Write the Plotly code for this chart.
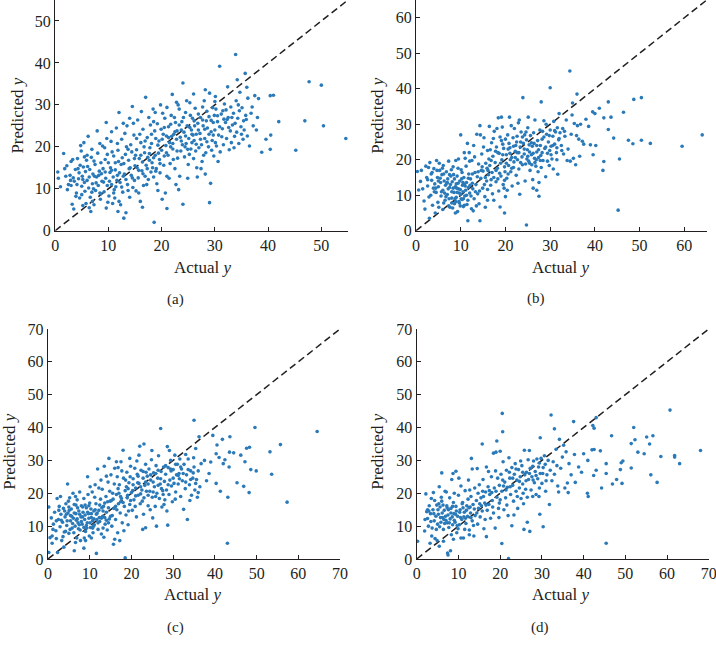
import plotly.graph_objects as go

# Actual y vs predicted y
pts_a = [
    (0.5,14.0),(0.6,12.5),(1.6,18.4),(1.0,10.5),(2.2,15.5),(2.5,11.0),(2.8,13.2),(3.0,16.5),(2.3,9.8),(3.2,6.3),
    (3.5,5.2),(2.9,12.0),(1.8,14.8),
    (3.6,11.8),(3.8,14.6),(4.0,9.0),(4.2,17.2),(4.4,12.4),(4.6,7.8),(4.8,20.3),(5.0,10.6),(5.1,13.0),(5.3,15.2),
    (5.5,11.5),(5.6,9.4),(5.8,6.5),(5.9,16.8),(4.1,11.0),(4.5,13.8),(5.2,12.2),(3.9,8.2),(4.9,19.0),(5.7,14.1),
    (5.4,21.0),(3.3,17.0),
    (6.0,12.0),(6.2,22.5),(6.3,10.2),(6.5,14.6),(6.6,8.0),(6.8,17.5),(7.0,11.2),(7.1,13.5),(7.3,6.2),(7.5,15.8),
    (7.6,9.6),(7.8,12.8),(8.0,18.5),(8.1,10.8),(8.3,14.2),(8.5,7.5),(8.6,16.2),(8.8,11.8),(8.9,20.2),(6.4,5.5),
    (6.9,19.4),(7.4,13.0),(7.9,23.8),(8.4,9.0),(6.1,15.3),(7.2,10.0),(8.7,13.6),(6.7,4.6),
    (9.0,14.8),(9.2,9.3),(9.3,19.8),(9.5,12.5),(9.6,25.8),(9.8,10.8),(10.0,16.2),(10.1,8.3),(10.3,13.9),(10.5,21.3),
    (10.6,11.0),(10.8,6.5),(11.0,17.8),(11.1,9.8),(11.3,14.5),(11.5,24.5),(11.6,12.0),(11.8,19.2),(12.0,7.0),(12.0,28.2),
    (9.4,17.0),(9.9,6.8),(10.4,15.0),(10.9,12.8),(11.4,10.5),(11.9,16.5),(9.7,22.0),(10.7,18.8),(11.2,7.8),(11.7,13.2),
    (12.2,11.5),(12.4,15.8),(12.5,21.8),(12.7,9.2),(12.9,3.0),(13.0,13.5),(13.2,18.2),(13.3,4.3),(13.5,25.0),(13.6,11.0),
    (13.8,16.8),(14.0,8.0),(14.2,20.5),(14.3,13.2),(14.5,29.6),(14.6,10.3),(14.8,22.8),(15.0,15.5),(12.6,17.4),(13.1,23.2),
    (13.9,14.8),(14.4,18.8),(14.9,12.0),(12.3,6.2),(13.7,9.6),(14.7,25.6),(12.8,13.0),(13.4,20.0),
    (15.2,9.5),(15.3,19.3),(15.5,26.4),(15.6,12.6),(15.8,17.2),(16.0,7.0),(16.1,21.0),(16.3,14.3),(16.5,24.2),(16.6,10.8),
    (16.8,18.6),(17.0,31.8),(17.1,15.6),(17.3,22.2),(17.5,12.2),(17.6,27.0),(17.8,19.8),(18.0,14.0),(15.4,15.0),(15.9,23.0),
    (16.4,16.4),(16.9,13.0),(17.4,17.5),(17.9,25.2),(15.7,9.0),(16.7,20.0),(17.2,11.0),(16.2,28.4),(17.7,16.8),(15.1,18.0),
    (18.1,20.8),(18.2,16.2),(18.4,29.0),(18.5,12.8),(18.6,2.0),(18.7,23.8),(18.8,18.0),(19.0,14.8),(19.2,25.5),(19.3,9.6),
    (19.5,21.4),(19.6,17.0),(19.8,30.0),(20.0,19.2),(20.1,7.5),(20.3,23.0),(20.4,15.6),(20.6,26.8),(20.8,20.3),(21.0,13.0),
    (18.3,15.0),(18.9,22.0),(19.4,18.5),(19.9,24.2),(20.5,17.8),(20.9,22.6),(19.1,11.2),(20.2,28.0),(18.5,26.0),(19.7,13.8),
    (20.7,9.0),(21.0,5.3),
    (21.2,18.0),(21.3,24.8),(21.5,21.0),(21.6,16.0),(21.8,27.5),(22.0,32.5),(22.1,19.5),(22.3,23.0),(22.5,14.8),(22.6,25.8),
    (22.8,21.8),(23.0,17.3),(23.2,9.8),(23.3,29.0),(23.5,22.3),(23.6,19.0),(23.8,26.0),(24.0,35.2),(24.0,6.3),(21.4,12.5),
    (21.9,22.5),(22.4,27.0),(22.9,23.8),(23.4,13.0),(23.9,20.5),(22.2,17.0),(23.1,30.0),(21.7,20.0),(22.7,11.0),(23.7,24.0),
    (24.2,23.5),(24.3,17.6),(24.5,28.2),(24.6,20.8),(24.8,25.0),(25.0,15.8),(25.1,22.0),(25.3,30.5),(25.5,19.5),(25.6,24.0),
    (25.8,26.8),(26.0,17.2),(26.1,21.5),(26.3,29.2),(26.5,23.0),(26.6,15.0),(26.8,25.6),(27.0,19.8),(24.4,20.0),(24.9,12.5),
    (25.4,27.5),(25.9,22.8),(26.4,19.0),(26.9,27.8),(24.7,31.0),(25.7,21.0),(26.2,25.0),(26.7,12.8),(25.2,18.2),
    (27.2,23.2),(27.3,27.0),(27.5,20.5),(27.6,16.5),(27.8,25.0),(28.0,31.0),(28.1,22.0),(28.3,18.6),(28.5,28.5),(28.6,24.5),
    (28.8,20.0),(29.0,32.8),(29.0,6.7),(29.2,11.3),(29.3,26.3),(29.5,21.5),(29.6,29.3),(29.8,17.8),(30.0,24.0),(27.4,14.8),
    (27.9,18.0),(28.4,26.2),(28.9,23.0),(29.4,19.2),(29.9,27.5),(27.7,29.5),(28.2,13.5),(29.7,22.8),
    (30.2,29.0),(30.3,20.2),(30.5,26.0),(30.7,22.8),(30.9,39.2),(31.0,18.8),(31.2,27.8),(31.4,24.3),(31.6,20.5),(31.8,30.2),
    (32.0,25.8),(32.2,22.0),(32.4,34.3),(32.5,27.0),(32.7,19.3),(32.9,23.8),(33.0,29.5),(30.6,16.5),(31.5,28.6),(32.3,26.5),
    (33.1,21.0),(30.1,32.0),
    (33.3,25.2),(33.5,28.0),(33.7,22.5),(33.9,42.0),(34.0,31.0),(34.1,23.5),(34.3,26.8),(34.5,20.8),(34.7,33.0),(34.9,24.8),
    (35.1,29.3),(35.3,21.8),(35.5,24.0),(35.7,37.5),(35.8,27.5),(36.0,34.2),(36.1,22.6),(36.2,31.6),(33.6,19.8),(34.4,30.0),
    (35.0,23.0),(35.9,26.5),(34.2,36.0),
    (36.8,28.0),(37.2,25.0),(37.5,32.2),(37.8,24.0),(38.0,27.0),(38.2,31.5),(38.8,18.7),(39.6,21.8),(40.4,19.4),(40.5,22.8),
    (40.4,32.2),(41.0,32.3),(42.0,26.0),(45.2,19.2),(46.9,26.2),(47.7,35.5),(50.0,34.7),(50.4,25.0),(54.6,22.0),(36.5,20.2),
    (37.0,29.5),
    (2.0,13.0),(3.4,12.6),(4.7,15.6),(5.0,8.6),(5.5,17.6),(6.4,12.8),(6.9,9.2),(7.3,16.6),(7.7,11.4),(8.2,13.2),
    (8.6,8.8),(9.1,11.6),(9.4,14.0),(9.8,18.2),(10.2,11.8),(10.6,14.4),(11.0,9.0),(11.3,16.2),(11.7,20.8),(12.1,13.8),
    (12.5,10.4),(12.9,16.0),(13.3,12.2),(13.7,19.4),(14.1,15.0),(14.5,12.6),(14.9,17.2),(15.3,22.0),(15.7,14.4),(16.1,18.0),
    (16.5,13.6),(16.9,21.4),(17.3,14.8),(17.7,18.4),(18.1,23.0),(18.5,17.4),(18.9,14.2),(19.3,20.4),(19.7,16.0),(20.1,21.8),
    (20.5,24.6),(20.9,18.6),(21.3,22.2),(21.7,25.4),(22.1,20.8),(22.5,23.6),(22.9,19.0),(23.3,25.2),(23.7,21.4),(24.1,27.0),
    (24.5,22.6),(24.9,19.4),(25.3,24.6),(25.7,23.0),(26.1,26.2),(26.5,20.6),(26.9,24.0),(27.3,21.8),(27.7,26.4),(28.1,24.2),
    (28.5,21.2),(28.9,27.2),(29.3,23.6),(29.7,25.8),(30.1,21.0),(30.5,27.4),(30.9,24.8),(31.3,22.4),(31.7,26.6),(32.1,28.8),
    (32.6,24.6),(33.2,27.0),(33.8,25.6),(34.6,28.6),(35.4,26.2),(5.2,6.0),(7.0,7.0),(9.6,5.4),(11.8,4.6),(16.4,5.6),
    (3.0,10.8),(4.3,14.8),(6.0,18.0),(8.4,20.8),(10.6,23.6),(12.8,25.6),(14.0,26.8),(18.8,28.2),(21.0,29.4),(22.8,30.6),
    (26.0,32.6),(28.2,33.6),(30.0,30.8),
]

pts_b = [
    (0.3,16.7),(1.0,13.9),(0.6,11.5),(1.5,11.8),(1.8,8.4),(2.0,6.1),(2.2,18.2),(2.4,15.0),(2.6,12.6),(2.8,17.8),
    (3.0,3.5),(3.1,19.2),(3.3,10.0),(3.5,14.2),(3.7,7.2),(3.9,12.0),(1.2,17.0),(2.9,9.5),(3.6,16.4),
    (4.0,17.5),(4.2,13.2),(4.3,5.0),(4.5,10.8),(4.6,19.8),(4.8,15.0),(5.0,12.4),(5.1,6.6),(5.3,17.0),(5.5,13.6),
    (5.6,9.8),(5.8,15.8),(6.0,11.4),(6.1,18.4),(6.3,14.0),(6.5,8.6),(6.6,12.8),(6.8,16.6),(7.0,10.2),(7.1,14.6),
    (7.3,19.6),(7.5,12.2),(7.6,6.6),(7.8,15.4),(8.0,9.2),(4.4,12.0),(4.9,8.0),(5.4,14.8),(5.9,17.6),(6.4,10.6),
    (6.9,13.4),(7.4,9.0),(7.9,17.2),(6.2,7.8),(7.2,11.8),(5.2,19.0),(7.7,13.0),
    (8.1,13.8),(8.2,6.4),(8.3,18.0),(8.5,10.8),(8.6,7.6),(8.8,12.4),(8.9,19.8),(9.0,9.4),(9.2,15.4),(9.3,5.4),
    (9.5,11.8),(9.6,8.2),(9.8,14.0),(10.0,27.0),(10.0,10.2),(10.1,17.2),(10.3,8.8),(10.4,12.8),(10.6,6.8),(10.7,15.0),
    (10.9,9.8),(11.0,20.4),(11.1,11.4),(11.3,13.6),(11.5,24.6),(11.6,8.6),(11.6,2.8),(11.8,16.0),(12.0,10.6),(8.4,15.8),
    (8.7,9.0),(9.1,12.0),(9.4,17.6),(9.7,10.6),(9.9,7.0),(10.2,14.6),(10.5,11.0),(10.8,13.0),(11.2,18.2),(11.4,7.4),
    (11.7,12.2),(8.0,11.0),(9.0,13.2),(10.6,9.0),(11.9,22.0),(9.5,20.2),
    (12.2,14.6),(12.4,6.2),(12.5,19.8),(12.7,11.8),(12.9,24.0),(13.0,9.0),(13.2,16.4),(13.4,13.0),(13.6,27.2),(13.8,10.4),
    (14.0,18.8),(14.1,7.6),(14.3,2.8),(14.3,29.6),(14.5,14.8),(14.7,21.6),(14.9,12.0),(15.0,16.8),(15.2,26.2),(15.4,9.6),
    (15.6,19.0),(15.8,14.0),(16.0,22.6),(12.6,16.0),(13.1,20.8),(13.7,15.2),(14.2,11.2),(14.8,18.0),(15.3,13.0),(15.9,17.6),
    (12.3,9.8),(13.5,7.0),(15.1,23.6),(16.0,11.6),
    (16.2,15.8),(16.4,29.4),(16.5,18.4),(16.7,12.8),(16.9,24.8),(17.0,16.4),(17.2,21.0),(17.4,8.6),(17.5,28.0),(17.7,19.2),
    (17.9,13.8),(18.0,23.6),(18.2,17.6),(18.4,31.8),(18.5,11.2),(18.6,21.8),(18.8,6.7),(18.8,26.4),(19.0,15.4),(19.2,20.0),
    (19.3,29.2),(19.5,13.0),(19.6,23.2),(19.8,5.0),(19.8,18.0),(20.0,25.8),(16.3,20.2),(16.8,14.4),(17.3,26.0),(17.8,22.4),
    (18.3,14.6),(18.9,19.0),(19.4,24.4),(19.9,16.6),(17.1,10.4),(18.1,28.8),(19.7,12.0),(16.6,22.8),(19.1,32.0),(20.0,9.6),
    (20.2,21.4),(20.3,14.8),(20.5,27.0),(20.7,18.4),(20.9,32.0),(21.0,23.4),(21.2,16.6),(21.4,20.6),(21.5,12.6),(21.7,26.2),
    (21.9,19.4),(22.0,28.8),(22.2,22.4),(22.4,15.6),(22.5,25.0),(22.7,20.0),(22.9,30.4),(23.0,17.4),(23.2,10.3),(23.3,23.6),
    (23.5,27.8),(23.7,20.8),(23.9,37.5),(24.0,24.6),(20.4,11.4),(20.8,24.6),(21.3,29.6),(21.8,17.8),(22.3,24.0),(22.8,13.4),
    (23.4,19.2),(23.8,26.4),(21.1,20.0),(22.6,22.0),(23.1,31.2),(20.6,16.0),
    (24.2,21.6),(24.3,27.0),(24.5,18.8),(24.7,1.6),(24.7,25.6),(24.9,22.8),(25.0,29.0),(25.2,19.6),(25.3,24.2),(25.5,17.0),
    (25.6,26.8),(25.8,21.4),(26.0,23.8),(26.1,14.4),(26.3,27.6),(26.5,20.4),(26.6,31.2),(26.8,18.2),(27.0,22.2),(27.0,11.4),
    (27.2,25.4),(27.4,20.6),(27.5,9.7),(27.5,13.6),(27.7,28.4),(27.9,21.2),(28.0,36.3),(28.0,17.8),(24.4,14.0),(24.8,20.2),
    (25.4,22.2),(25.9,18.6),(26.4,24.6),(26.9,20.0),(27.3,16.6),(27.8,24.0),(25.1,32.0),(26.2,12.0),
    (28.2,25.8),(28.4,19.8),(28.6,31.0),(28.8,23.2),(29.0,15.2),(29.2,27.2),(29.4,21.8),(29.6,25.0),(29.8,18.4),(30.0,40.3),
    (30.0,28.4),(30.2,23.8),(30.4,20.2),(30.6,26.6),(30.8,30.8),(31.0,24.4),(31.2,27.8),(31.4,22.0),(31.6,29.0),(31.7,15.9),
    (31.9,25.6),(28.3,28.0),(29.1,30.0),(29.9,22.6),(30.7,17.4),(31.5,20.0),(32.0,33.0),
    (32.2,27.6),(32.5,24.0),(32.8,28.8),(33.0,21.6),(33.3,26.6),(33.6,31.2),(34.0,23.0),(34.4,45.0),(34.5,19.6),(34.7,27.2),
    (35.0,36.0),(35.2,20.4),(35.4,30.2),(35.7,18.6),(36.0,38.5),(36.1,29.6),(36.4,25.8),(36.8,30.0),(37.2,25.2),(37.5,24.4),
    (38.0,31.4),(38.6,29.4),(39.0,24.2),(39.5,33.5),(39.6,21.4),(40.0,33.0),(40.2,24.0),(33.8,19.8),(34.9,32.6),(36.6,21.0),
    (35.9,26.8),
    (41.0,34.5),(41.8,17.0),(42.0,19.5),(42.0,31.8),(43.0,36.3),(43.0,28.5),(43.6,32.0),(44.2,26.1),(45.2,5.8),(45.5,20.2),
    (46.4,33.4),(47.5,25.5),(48.5,24.5),(48.7,37.0),(50.4,37.5),(50.4,25.5),(52.4,24.6),(59.5,23.8),(64.0,27.0),
    (5.0,14.0),(5.7,11.0),(6.2,16.0),(6.7,9.6),(7.0,13.6),(7.5,15.8),(8.0,7.8),(8.3,12.0),(8.6,14.6),(8.9,8.2),
    (9.2,10.8),(9.4,13.4),(9.7,7.8),(9.9,11.6),(10.1,9.0),(10.3,16.4),(10.5,13.6),(10.8,7.2),(11.0,12.6),(11.3,10.0),
    (11.7,14.8),(12.1,12.8),(12.6,13.4),(13.3,11.0),(13.9,16.6),(14.6,17.0),(15.5,15.0),(16.1,17.0),(16.8,19.8),(17.4,15.0),
    (17.9,17.0),(18.3,22.0),(18.7,16.2),(19.1,25.4),(19.4,21.4),(19.8,14.2),(20.2,19.0),(20.6,23.0),(21.0,21.8),(21.4,17.6),
    (21.8,23.8),(22.2,20.6),(22.6,26.6),(23.0,22.0),(23.4,25.0),(23.8,18.6),(24.2,23.0),(24.6,27.8),(25.0,21.0),(25.4,19.0),
    (25.8,24.8),(26.2,21.8),(26.6,19.2),(27.0,24.0),(27.4,22.8),(27.8,19.8),(28.2,22.0),(28.6,26.4),(29.0,23.6),(29.4,19.6),
    (29.8,26.8),(30.2,21.4),(30.6,24.0),(31.0,28.2),(31.5,23.4),(32.0,26.0),(32.6,22.6),(33.2,28.0),(2.6,14.4),(3.4,16.0),
    (4.1,11.0),(4.7,17.0),(6.0,6.0),(7.3,7.0),(8.8,5.0),(12.8,5.6),(15.5,6.6),(16.0,8.6),(14.4,27.0),(12.0,19.6),
    (10.8,22.0),
]

pts_c = [
    (0.2,15.8),(0.2,2.0),(0.5,6.5),(0.8,12.5),(1.0,7.0),(1.3,10.6),(1.6,14.2),(1.9,8.6),(2.2,18.4),(2.3,2.0),
    (2.5,12.0),(2.7,16.0),(2.9,9.8),(3.1,13.6),(3.3,5.6),(3.5,11.2),(3.7,15.4),(3.9,8.2),(1.2,9.0),(2.0,11.6),
    (3.0,19.0),(3.6,6.8),(2.6,14.8),
    (4.1,12.8),(4.3,16.8),(4.5,10.2),(4.7,22.8),(4.8,14.0),(5.0,7.8),(5.2,18.6),(5.4,11.6),(5.6,15.2),(5.8,9.4),
    (6.0,20.0),(6.1,12.4),(6.3,2.5),(6.3,16.6),(6.5,10.0),(6.7,13.8),(6.9,6.4),(7.0,18.0),(7.2,11.0),(7.4,14.6),
    (7.6,20.4),(7.7,8.8),(7.9,12.8),(8.0,16.2),(4.4,13.6),(4.9,17.6),(5.3,9.0),(5.7,13.0),(6.2,8.0),(6.6,19.0),
    (7.1,15.6),(7.5,10.4),(7.8,5.6),(5.1,14.8),(6.8,11.8),(4.2,8.4),
    (8.2,10.6),(8.4,14.2),(8.6,3.3),(8.6,18.4),(8.8,12.0),(9.0,8.4),(9.2,15.6),(9.4,11.0),(9.5,25.0),(9.7,13.8),
    (9.9,7.0),(10.0,17.0),(10.2,9.6),(10.4,12.6),(10.6,20.4),(10.8,8.0),(11.0,14.6),(11.1,10.4),(11.3,22.6),(11.5,16.8),
    (11.6,1.7),(11.7,12.0),(11.9,27.4),(12.0,9.0),(8.3,12.8),(8.9,16.4),(9.3,9.4),(9.8,12.4),(10.3,15.2),(10.7,11.6),
    (11.2,18.8),(11.8,14.0),(8.7,6.4),(10.1,22.0),(10.9,10.0),(9.6,19.6),
    (12.2,14.8),(12.4,11.4),(12.6,18.2),(12.8,7.6),(13.0,21.2),(13.1,13.0),(13.3,16.0),(13.5,28.2),(13.7,10.6),(13.9,19.0),
    (14.0,14.2),(14.2,8.8),(14.4,23.4),(14.6,30.6),(14.7,12.2),(14.9,17.6),(15.1,25.6),(15.3,10.0),(15.5,20.0),(15.7,4.5),
    (15.8,15.4),(16.0,27.6),(12.3,12.6),(12.9,15.6),(13.6,12.6),(14.3,17.4),(14.8,20.6),(15.4,13.2),(15.9,22.8),(13.2,9.4),
    (14.5,11.0),(12.7,24.0),(15.2,17.8),
    (16.2,12.0),(16.4,19.6),(16.6,25.0),(16.7,8.0),(16.9,16.8),(17.1,22.6),(17.3,14.0),(17.5,29.6),(17.6,18.4),(17.8,11.0),
    (18.0,33.1),(18.1,24.6),(18.3,16.0),(18.5,0.4),(18.5,20.8),(18.7,13.4),(18.9,26.4),(19.0,18.6),(19.2,10.4),(19.4,23.2),
    (19.6,16.6),(19.8,28.2),(20.0,20.2),(16.5,15.0),(17.0,20.0),(17.7,26.8),(18.2,8.6),(18.8,22.0),(19.3,14.6),(19.7,25.0),
    (16.8,27.8),(19.1,19.4),(17.4,17.4),
    (20.2,14.8),(20.4,24.4),(20.6,18.0),(20.8,27.6),(21.0,21.6),(21.2,12.8),(21.4,25.8),(21.6,19.4),(21.8,23.0),(22.0,34.3),
    (22.1,16.8),(22.3,27.0),(22.5,21.0),(22.7,9.0),(22.8,24.6),(23.0,35.0),(23.0,18.6),(23.2,22.4),(23.4,9.5),(23.4,28.8),
    (23.6,20.6),(23.8,25.2),(24.0,16.2),(20.3,20.8),(20.9,16.0),(21.5,23.2),(22.2,19.8),(22.9,13.6),(23.5,26.4),(24.0,22.8),
    (21.3,29.8),(22.6,17.6),
    (24.2,27.4),(24.4,20.6),(24.6,24.0),(24.8,30.2),(25.0,18.8),(25.1,12.5),(25.3,26.2),(25.5,22.0),(25.7,16.0),(25.9,28.4),
    (26.1,20.0),(26.3,24.6),(26.5,31.4),(26.7,18.4),(26.9,22.8),(27.0,39.7),(27.1,26.6),(27.3,15.8),(27.5,20.8),(27.7,28.0),
    (27.9,23.6),(28.0,18.0),(24.5,15.0),(25.2,23.4),(25.8,19.0),(26.4,27.0),(27.2,21.4),(27.8,16.6),(26.0,10.0),(24.9,33.0),
    (28.2,25.8),(28.4,21.0),(28.6,34.2),(28.7,10.3),(28.8,27.8),(29.0,19.6),(29.2,24.0),(29.4,30.0),(29.6,22.2),(29.8,17.4),
    (30.0,27.2),(30.2,23.0),(30.4,31.6),(30.6,20.4),(30.8,25.6),(31.0,28.8),(31.2,22.8),(31.4,26.0),(31.6,30.4),(31.8,19.0),
    (32.0,27.4),(28.5,14.6),(29.5,26.8),(30.5,18.2),(31.5,24.4),(29.1,33.0),
    (32.2,23.8),(32.5,15.1),(32.6,28.8),(32.9,21.4),(33.2,25.6),(33.4,12.0),(33.6,30.4),(33.9,22.6),(34.2,26.8),(34.4,19.4),
    (34.7,24.6),(35.0,42.2),(35.0,28.0),(35.2,21.0),(35.4,33.6),(35.6,24.2),(35.8,18.8),(36.0,26.8),(36.2,37.2),(36.4,22.0),
    (36.7,29.0),(33.0,31.8),(34.0,17.8),(34.9,30.8),(36.0,20.2),
    (38.0,23.8),(39.0,29.5),(39.5,37.6),(40.3,32.0),(40.3,23.0),(40.5,34.7),(41.0,30.9),(41.3,20.6),(41.8,36.4),(42.0,29.0),
    (42.4,30.2),(43.0,4.8),(43.1,18.8),(43.4,28.0),(43.5,32.5),(43.6,37.2),(44.5,32.3),(45.3,23.2),(46.2,31.6),(46.9,22.1),
    (47.2,29.6),(47.6,33.7),(48.2,20.2),(48.3,34.0),(48.6,27.2),(49.6,40.0),(49.9,26.8),(53.2,32.6),(53.6,25.8),(55.7,34.8),
    (57.3,17.3),(64.5,38.8),(37.5,30.0),(38.6,26.0),
    (3.2,11.8),(4.0,14.6),(4.6,11.6),(5.0,15.8),(5.4,13.2),(5.9,10.8),(6.3,14.0),(6.7,16.4),(7.0,12.2),(7.3,9.2),
    (7.6,13.6),(8.0,11.4),(8.3,15.8),(8.6,9.6),(8.9,13.4),(9.2,10.2),(9.5,14.2),(9.8,16.2),(10.1,11.0),(10.4,13.8),
    (10.7,9.4),(11.0,12.2),(11.3,15.0),(11.6,13.6),(12.0,11.0),(12.4,16.4),(12.8,12.4),(13.2,14.6),(13.6,17.0),(14.0,11.8),
    (14.5,15.6),(15.0,13.0),(15.6,18.2),(16.2,16.0),(16.8,21.4),(17.4,19.0),(18.0,17.2),(18.6,24.0),(19.2,21.4),(19.8,17.8),
    (20.4,22.6),(21.0,19.2),(21.6,25.2),(22.2,22.0),(22.8,26.6),(23.4,23.4),(24.0,19.4),(24.6,25.6),(25.2,20.4),(25.8,26.0),
    (26.4,22.4),(27.0,24.4),(27.6,19.6),(28.2,28.4),(28.8,22.6),(29.4,27.4),(30.0,24.6),(30.6,28.8),(31.2,25.4),(31.8,28.0),
    (32.4,26.0),(33.0,23.4),(33.6,27.2),(34.2,24.2),(34.8,26.2),(35.4,23.0),(1.0,4.8),(2.0,6.2),(3.8,3.6),(6.6,5.0),
    (9.0,5.6),(10.4,6.4),(13.4,6.6),(16.0,6.0),(17.2,5.6),(12.2,21.6),(14.0,25.2),(16.4,29.6),(19.6,30.6),(21.8,31.6),
]

pts_d = [
    (0.2,5.4),(1.9,8.5),(2.0,12.0),(2.2,19.8),(2.4,14.4),(2.6,12.3),(2.8,10.0),(3.0,16.2),(3.2,4.8),(3.3,13.8),
    (3.5,18.4),(3.7,9.4),(3.9,15.0),(4.0,20.2),(4.2,11.6),(4.4,6.2),(4.6,13.0),(4.8,16.4),(5.0,10.6),(2.9,14.6),
    (3.6,7.0),(4.3,17.8),(4.9,5.6),
    (5.2,13.6),(5.4,3.9),(5.4,22.0),(5.6,15.8),(5.8,11.2),(6.0,26.2),(6.0,17.6),(6.2,12.6),(6.4,9.0),(6.6,14.8),
    (6.8,20.6),(7.0,11.8),(7.2,16.2),(7.4,1.8),(7.5,1.2),(7.5,13.4),(7.7,9.6),(7.9,18.6),(8.0,12.2),(8.1,2.5),
    (8.2,15.4),(8.4,24.2),(8.6,10.4),(8.7,26.0),(8.9,13.8),(9.0,20.0),(5.5,9.8),(6.1,14.0),(6.7,10.8),(7.1,20.4),
    (7.6,15.0),(8.3,7.4),(8.8,17.2),(5.9,18.8),(6.5,12.0),(7.3,11.0),(8.5,12.8),(5.3,16.8),
    (9.2,11.2),(9.4,26.7),(9.4,16.0),(9.6,8.0),(9.8,13.0),(10.0,19.4),(10.2,10.4),(10.4,15.0),(10.6,22.2),(10.8,12.0),
    (11.0,17.2),(11.2,6.4),(11.4,14.2),(11.6,20.8),(11.8,10.8),(12.0,16.2),(12.2,13.0),(12.4,24.0),(12.6,8.8),(12.8,15.8),
    (13.0,19.0),(13.1,30.6),(13.3,27.4),(13.3,11.6),(13.5,16.6),(13.7,7.0),(13.9,21.6),(14.0,13.2),(9.9,9.2),(10.5,12.6),
    (11.1,15.6),(11.7,12.4),(12.3,18.2),(12.9,14.0),(13.6,10.2),(10.1,24.6),(11.5,9.0),(12.7,21.0),(9.5,14.6),
    (14.3,17.8),(14.5,27.5),(14.6,10.6),(14.8,15.4),(15.0,22.6),(15.2,12.8),(15.4,18.6),(15.7,35.0),(15.7,14.6),(15.9,24.2),
    (16.1,9.2),(16.3,17.0),(16.5,20.4),(16.7,28.0),(16.7,6.8),(16.9,14.8),(17.1,22.0),(17.3,16.6),(17.5,19.6),(17.7,12.4),
    (17.9,25.0),(18.1,17.8),(18.4,32.2),(18.4,14.0),(18.6,21.6),(18.8,9.4),(19.0,32.5),(19.2,35.9),(19.2,18.8),(19.4,24.6),
    (19.6,15.4),(19.8,22.4),(20.0,32.8),(20.0,18.0),(14.7,20.0),(15.5,16.2),(16.4,12.0),(17.2,26.6),(18.0,20.2),(18.9,26.8),
    (19.7,12.6),(16.0,19.0),
    (20.2,25.8),(20.4,4.7),(20.4,20.6),(20.5,44.3),(20.6,38.7),(20.7,29.6),(20.9,15.0),(21.1,23.4),(21.3,18.6),(21.5,27.0),
    (21.7,21.8),(21.9,13.2),(22.0,0.1),(22.1,30.8),(22.3,24.6),(22.5,19.6),(22.8,10.1),(22.8,27.8),(23.0,22.4),(23.2,17.6),
    (23.4,25.8),(23.6,29.0),(23.8,20.6),(24.0,24.0),(24.2,15.4),(24.4,27.2),(24.6,21.6),(24.8,25.0),(25.0,18.4),(25.2,28.4),
    (25.4,22.8),(25.6,16.8),(25.7,9.0),(25.8,33.1),(25.9,25.6),(20.8,22.2),(21.6,16.4),(22.4,22.0),(23.3,13.4),(24.1,19.0),
    (24.9,29.8),(25.5,20.0),
    (26.1,21.2),(26.3,26.4),(26.5,11.2),(26.5,18.8),(26.8,24.2),(27.0,33.0),(27.1,8.4),(27.2,27.6),(27.4,21.0),(27.6,25.0),
    (27.8,19.0),(28.0,29.8),(28.2,23.2),(28.4,26.6),(28.6,19.6),(28.8,30.4),(29.0,24.4),(29.2,28.0),(29.4,21.6),(29.5,13.6),
    (29.6,36.9),(29.6,26.0),(29.8,30.6),(30.0,23.0),(30.3,9.8),(30.3,27.8),(30.6,31.4),(30.9,20.6),(31.2,25.6),(31.5,30.0),
    (31.8,16.6),(32.0,27.0),(26.7,30.2),(27.9,24.0),(29.3,19.0),(30.8,28.8),
    (32.2,43.8),(32.4,23.8),(32.7,29.6),(33.0,39.6),(33.0,25.8),(33.4,33.4),(33.8,22.2),(34.2,36.4),(34.5,27.6),(34.9,31.0),
    (35.2,34.6),(35.5,21.6),(35.8,32.6),(36.1,23.1),(36.3,20.2),(36.5,29.0),(37.0,25.6),(37.6,41.8),(37.8,31.8),(38.0,23.3),
    (38.8,28.0),(39.5,26.4),(40.0,32.0),(40.9,20.0),(41.0,30.0),(41.1,19.0),(42.0,33.2),(42.2,40.6),(42.4,25.4),(42.5,39.8),
    (42.5,33.3),(43.0,43.0),(43.0,27.0),(44.0,32.9),(44.3,21.6),(45.4,26.0),(45.4,29.0),(45.4,4.8),(46.7,37.5),(46.9,22.8),
    (47.9,24.2),(48.8,27.2),(49.0,29.3),(49.2,23.0),(49.4,29.8),(51.4,35.1),(51.4,27.7),(52.0,40.0),(52.3,36.3),(53.0,32.5),
    (54.5,32.0),(55.1,37.1),(55.8,35.0),(56.1,25.6),(56.6,37.5),(57.6,23.3),(58.5,31.2),(60.7,45.3),(61.8,31.5),(61.8,31.0),
    (63.0,29.0),(68.0,33.0),(33.6,28.4),(34.0,20.4),
    (2.6,15.0),(3.4,11.4),(4.1,13.8),(4.7,9.0),(5.1,15.0),(5.7,12.6),(6.3,16.4),(6.9,13.0),(7.3,15.6),(7.8,11.0),
    (8.2,14.0),(8.6,16.0),(9.0,11.8),(9.3,13.6),(9.7,10.2),(10.3,14.2),(10.9,16.8),(11.3,12.8),(11.9,14.8),(12.5,15.6),
    (13.0,12.6),(13.8,15.2),(14.4,14.0),(15.1,16.8),(15.8,20.6),(16.6,16.4),(17.4,20.8),(18.2,15.8),(19.0,20.6),(19.8,17.0),
    (20.6,24.0),(21.4,21.0),(22.2,26.4),(23.0,24.6),(23.8,27.4),(24.6,23.6),(25.4,26.4),(26.2,23.8),(27.0,26.0),(27.8,28.2),
    (28.6,25.4),(29.4,29.2),(30.2,26.0),(31.0,23.8),(6.4,5.4),(8.8,6.0),(10.6,6.4),(12.6,7.4),
]

axis_max = [55, 65, 70, 70]
captions = ["(a)", "(b)", "(c)", "(d)"]

# pixel-measured panel placement (paper fractions)
x_domains = [[0.077, 0.486], [0.581, 0.987], [0.067, 0.475], [0.582, 0.990]]
y_domains = [[0.645, 1.0], [0.645, 1.0], [0.140, 0.494], [0.140, 0.494]]
xtitle_pos = [(0.284, 0.589), (0.784, 0.589), (0.270, 0.085), (0.784, 0.085)]
ytitle_pos = [(0.025, 0.822), (0.528, 0.822), (0.014, 0.305), (0.528, 0.305)]
cap_pos = [(0.245, 0.540), (0.748, 0.541), (0.245, 0.034), (0.754, 0.034)]

dot_color = "#2a7ab9"
ink = "#231f20"
font = "Liberation Serif"

fig = go.Figure()

for i, pts in enumerate([pts_a, pts_b, pts_c, pts_d]):
    n = "" if i == 0 else str(i + 1)
    xs = [p[0] for p in pts]
    ys = [p[1] for p in pts]
    fig.add_trace(go.Scatter(x=[0, axis_max[i]], y=[0, axis_max[i]],
                             mode="lines", xaxis="x" + n, yaxis="y" + n,
                             line=dict(color=ink, width=1.5, dash="7px,4px"),
                             showlegend=False, hoverinfo="skip"))
    fig.add_trace(go.Scatter(x=xs, y=ys, mode="markers",
                             xaxis="x" + n, yaxis="y" + n,
                             marker=dict(color=dot_color, size=3.6, line=dict(width=0)),
                             showlegend=False))

    common = dict(showgrid=False, zeroline=False, showline=True, linecolor=ink, linewidth=1.3,
                  ticks="inside", ticklen=4, tickwidth=1, tickcolor=ink, dtick=10, automargin=False,
                  ticklabeloverflow="allow",
                  tickfont=dict(family=font, size=16, color=ink), mirror=False)
    fig.update_layout({
        "xaxis" + n: dict(common, domain=x_domains[i], range=[0, axis_max[i]], anchor="y" + n),
        "yaxis" + n: dict(common, domain=y_domains[i], range=[0, axis_max[i]], anchor="x" + n),
    })
    fig.add_annotation(text="Actual <i>y</i>", x=xtitle_pos[i][0], y=xtitle_pos[i][1],
                       xref="paper", yref="paper", showarrow=False,
                       xanchor="center", yanchor="middle",
                       font=dict(family=font, size=17, color=ink))
    fig.add_annotation(text="Predicted <i>y</i>", x=ytitle_pos[i][0], y=ytitle_pos[i][1],
                       xref="paper", yref="paper", showarrow=False, textangle=-90,
                       xanchor="center", yanchor="middle",
                       font=dict(family=font, size=17, color=ink))
    fig.add_annotation(text=captions[i], x=cap_pos[i][0], y=cap_pos[i][1], xref="paper", yref="paper",
                       showarrow=False, xanchor="center", yanchor="middle",
                       font=dict(family=font, size=15, color=ink))

fig.update_layout(width=716, height=650, margin=dict(l=0, r=0, t=0, b=0),
                  plot_bgcolor="white", paper_bgcolor="white")

# the page's default 8px body margin would shift the figure
fig.write_html("out.html", config={"displayModeBar": False},
               post_script="document.body.style.margin='0';")
